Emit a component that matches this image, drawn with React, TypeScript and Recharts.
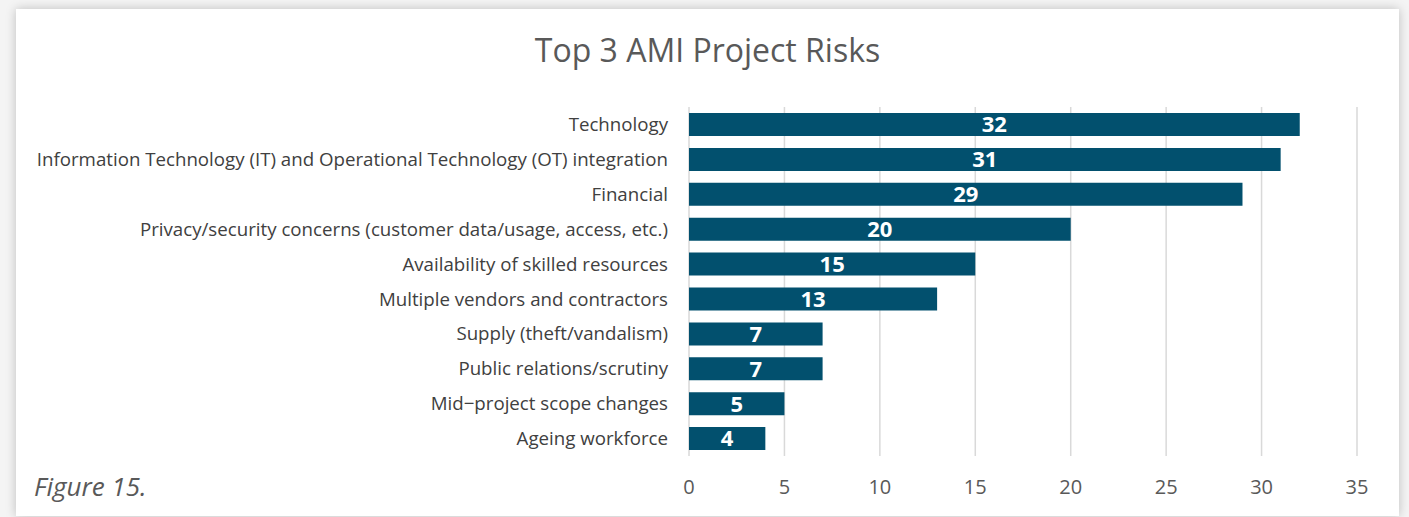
import React from "react";
import { BarChart, Bar, XAxis, YAxis, CartesianGrid, LabelList } from "recharts";

const categories = [
  "Technology",
  "Information Technology (IT) and Operational Technology (OT) integration",
  "Financial",
  "Privacy/security concerns (customer data/usage, access, etc.)",
  "Availability of skilled resources",
  "Multiple vendors and contractors",
  "Supply (theft/vandalism)",
  "Public relations/scrutiny",
  "Mid\u2212project scope changes",
  "Ageing workforce",
];
const values = [32, 31, 29, 20, 15, 13, 7, 7, 5, 4];
const xTicks = [0, 5, 10, 15, 20, 25, 30, 35];

const data = categories.map((name, i) => ({ name, value: values[i] }));

const FONT = "'Open Sans', Lato, sans-serif";

export default function App() {
  return (
    <div style={{ position: "absolute", left: 0, top: 0, width: 1409, height: 517, background: "#f4f4f4", overflow: "hidden" }}>
      <div
        style={{
          position: "absolute",
          left: 16,
          top: 9,
          width: 1383,
          height: 507,
          background: "#ffffff",
          boxShadow: "0 0 10px rgba(0,0,0,0.22)",
        }}
      >
        <div
          style={{
            position: "absolute",
            left: 0,
            width: 1383,
            top: 21,
            textAlign: "center",
            fontFamily: FONT,
            fontSize: 32,
            color: "#595959",
            lineHeight: "40px",
          }}
        >
          Top 3 AMI Project Risks
        </div>
        <div
          style={{
            position: "absolute",
            left: 18,
            top: 461,
            fontFamily: FONT,
            fontStyle: "italic",
            fontSize: 26,
            color: "#595959",
            lineHeight: "32px",
          }}
        >
          Figure 15.
        </div>
        <BarChart
          width={1383}
          height={507}
          data={data}
          layout="vertical"
          margin={{ top: 98, right: 42, bottom: 0, left: 0 }}
          barSize={23}
        >
          <CartesianGrid horizontal={false} stroke="#d9d9d9" strokeWidth={1.5} />
          <XAxis
            type="number"
            domain={[0, 35]}
            ticks={xTicks}
            axisLine={false}
            tickLine={false}
            tickMargin={18}
            height={60}
            tick={{ fill: "#595959", fontSize: 20, fontFamily: FONT }}
          />
          <YAxis
            type="category"
            dataKey="name"
            width={673}
            axisLine={false}
            tickLine={false}
            tickMargin={15}
            interval={0}
            tick={{ fill: "#404040", fontSize: 18.7, fontFamily: FONT }}
          />
          <Bar dataKey="value" fill="#02506e" isAnimationActive={false}>
            <LabelList
              dataKey="value"
              position="center"
              fill="#ffffff"
              style={{ fontWeight: 700, fontSize: 22, fontFamily: FONT }}
            />
          </Bar>
        </BarChart>
      </div>
    </div>
  );
}
